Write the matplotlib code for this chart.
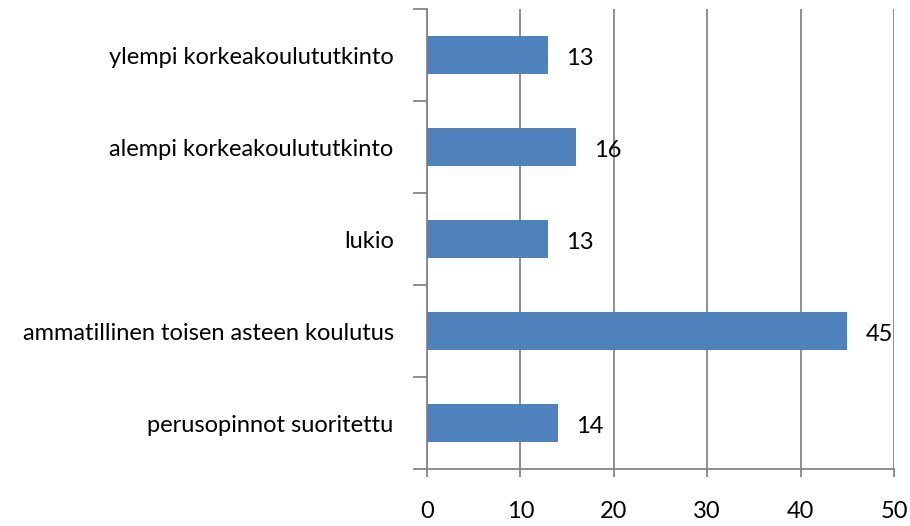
import matplotlib.pyplot as plt

# data (bottom to top)
categories = ['perusopinnot suoritettu', 'ammatillinen toisen asteen koulutus', 'lukio',
              'alempi korkeakoulututkinto', 'ylempi korkeakoulututkinto']
values = [14, 45, 13, 16, 13]
xticks = [0, 10, 20, 30, 40, 50]

plt.rcParams['font.family'] = ['Lato', 'DejaVu Sans']

fig = plt.figure(figsize=(9.1, 5.26), dpi=100)
ax = fig.add_axes([427/910, 1 - 469/526, 467/910, 460/526])

ax.barh(range(len(values)), values, height=0.41, color='#4F81BD', zorder=3)
for i, v in enumerate(values):
    ax.annotate(str(v), (v, i), xytext=(13, -1), textcoords='offset points',
                va='center_baseline', ha='left', fontsize=17, color='black')

ax.set_xlim(0, 50)
ax.set_ylim(-0.5, len(values) - 0.5)
ax.set_xticks(xticks)
ax.set_xticklabels([str(t) for t in xticks], fontsize=17)
ax.xaxis.grid(True, color='#868686', linewidth=1.3, zorder=0)

# category labels between the boundary ticks
ax.set_yticks(range(len(values)))
ax.set_yticklabels(categories, fontsize=17)
ax.tick_params(axis='y', length=0, pad=24)
ax.set_yticks([i - 0.5 for i in range(len(values) + 1)], minor=True)
ax.tick_params(axis='y', which='minor', length=10, width=1.3, color='#868686')
ax.tick_params(axis='x', length=6, width=1.3, color='#868686', pad=17)

for s in ['top', 'right']:
    ax.spines[s].set_visible(False)
for s in ['left', 'bottom']:
    ax.spines[s].set_color('#868686')
    ax.spines[s].set_linewidth(1.3)

fig.savefig('out.png', dpi=100)
